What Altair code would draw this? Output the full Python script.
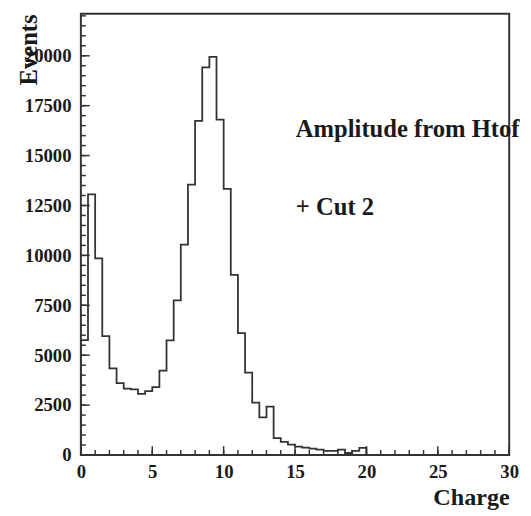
import altair as alt
import pandas as pd

# Histogram bins (left edges, width 0.5) and counts
bin_low = [0.0, 0.5, 1.0, 1.5, 2.0, 2.5, 3.0, 3.5, 4.0, 4.5,
           5.0, 5.5, 6.0, 6.5, 7.0, 7.5, 8.0, 8.5, 9.0, 9.5,
           10.0, 10.5, 11.0, 11.5, 12.0, 12.5, 13.0, 13.5, 14.0, 14.5,
           15.0, 15.5, 16.0, 16.5, 17.0, 17.5, 18.0, 18.5, 19.0, 19.5]
counts = [5750, 13060, 9850, 5950, 4340, 3600, 3320, 3290, 3060, 3200,
          3400, 4230, 5740, 7750, 10540, 13540, 16740, 19420, 19950, 16800,
          13330, 9020, 6110, 4130, 2620, 1880, 2420, 850, 660, 520,
          420, 370, 320, 270, 210, 210, 270, 100, 210, 360]
x_end = [20.0, 30.0]

x_labels = [0, 5, 10, 15, 20, 25, 30]
x_minor = list(range(0, 31))
y_labels = [0, 2500, 5000, 7500, 10000, 12500, 15000, 17500, 20000]
y_minor = list(range(0, 22001, 500))

notes = ["Amplitude from Htof", "+ Cut 2"]
note_x = [15.05, 15.05]
note_y = [15950, 12000]

X_DOM = [0, 30]
Y_DOM = [0, 22100]
W, H = 435, 448
FONT = "'Liberation Serif', 'Times New Roman', Times, serif"
INK = "#1a1a1a"
LINE = "#333333"

# step outline of the histogram
xs = [0.0] + bin_low + x_end
ys = [0] + counts + [0, 0]
hist = pd.DataFrame({"x": xs, "y": ys, "i": list(range(len(xs)))})

xsc = alt.Scale(domain=X_DOM, nice=False, zero=False)
ysc = alt.Scale(domain=Y_DOM, nice=False)

x_axis = alt.Axis(values=x_labels, ticks=False, domain=False, grid=False,
                  labelFont=FONT, labelFontWeight="bold", labelFontSize=19,
                  labelColor=INK, labelPadding=8, labelFlush=False,
                  title="Charge", titleFont=FONT, titleFontWeight="bold",
                  titleFontSize=24.5, titleColor=INK, titleAngle=0,
                  titleX=W, titleY=50, titleAlign="right",
                  titleBaseline="alphabetic")
y_axis = alt.Axis(values=y_labels, ticks=False, domain=False, grid=False,
                  format="d", labelFont=FONT, labelFontWeight="bold",
                  labelFontSize=19, labelColor=INK, labelPadding=10,
                  labelFlush=False,
                  title="Events", titleFont=FONT, titleFontWeight="bold",
                  titleFontSize=25, titleColor=INK, titleAngle=270,
                  titleX=-45, titleY=0, titleAlign="right",
                  titleBaseline="alphabetic")

line = alt.Chart(hist).mark_line(interpolate="step-after", color=LINE,
                                  strokeWidth=1.8).encode(
    x=alt.X("x:Q", scale=xsc, axis=x_axis),
    y=alt.Y("y:Q", scale=ysc, axis=y_axis),
    order="i:Q",
)

def yticks(vals, length):
    return alt.Chart(pd.DataFrame({"v": vals})).mark_rule(
        color=LINE, strokeWidth=1.5).encode(
        y=alt.Y("v:Q", scale=ysc), x=alt.value(0), x2=alt.value(length))

def xticks(vals, length):
    return alt.Chart(pd.DataFrame({"v": vals})).mark_rule(
        color=LINE, strokeWidth=1.5).encode(
        x=alt.X("v:Q", scale=xsc), y=alt.value(H), y2=alt.value(H - length))

text = alt.Chart(pd.DataFrame({"t": notes, "x": note_x, "y": note_y})).mark_text(
    font=FONT, fontWeight="bold", fontSize=25, color=INK, align="left",
    baseline="alphabetic").encode(
    x=alt.X("x:Q", scale=xsc), y=alt.Y("y:Q", scale=ysc), text="t:N")

chart = alt.layer(
    yticks(y_minor, 5), yticks(y_labels, 9),
    xticks(x_minor, 5), xticks(x_labels, 9),
    line, text,
).properties(
    width=W, height=H,
    autosize=alt.AutoSizeParams(type="none"),
    padding={"left": 74, "top": 2, "right": 14, "bottom": 58},
    background="white",
).configure_view(stroke=LINE, strokeWidth=2)

chart.save("out.html", embed_options={"renderer": "svg", "actions": False})
